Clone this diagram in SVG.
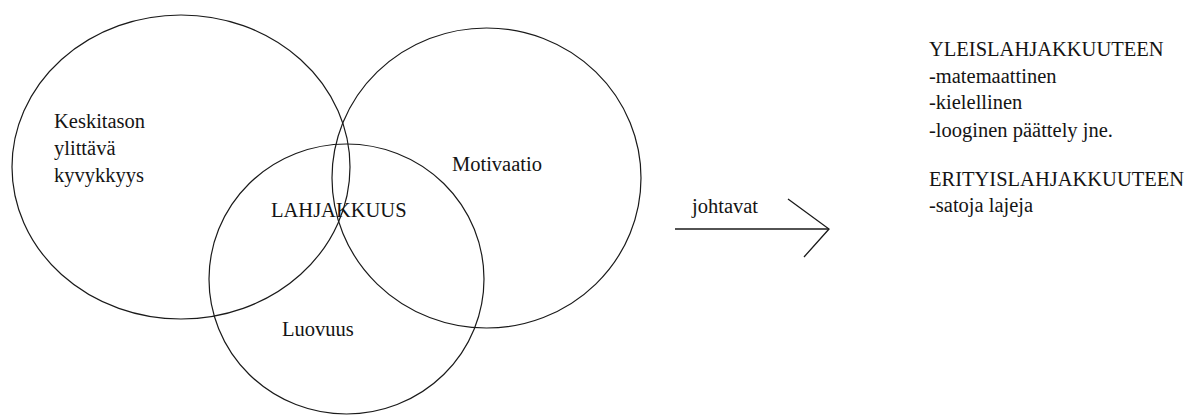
<svg xmlns="http://www.w3.org/2000/svg" width="1200" height="415" viewBox="0 0 1200 415">
<style>
.c{fill:none;stroke:#1a1a1a;stroke-width:1.2}
.t{font-size:20.5px;fill:#141414}
.l{fill:none;stroke:#1a1a1a;stroke-width:1.3}
</style>
<rect width="1200" height="415" fill="#ffffff"/>
<g font-family="'Liberation Serif', 'Times New Roman', 'DejaVu Serif', serif">
<g id="kyvykkyys">
<ellipse class="c" cx="181" cy="167" rx="169" ry="152"/>
<text class="t" x="54" y="128">Keskitason</text>
<text class="t" x="54" y="155">ylittävä</text>
<text class="t" x="54" y="182">kyvykkyys</text>
</g>
<g id="motivaatio">
<ellipse class="c" cx="486.5" cy="178" rx="154.5" ry="150"/>
<text class="t" x="452" y="171">Motivaatio</text>
</g>
<g id="luovuus">
<ellipse class="c" cx="346.5" cy="279" rx="137.5" ry="135"/>
<text class="t" x="282" y="336">Luovuus</text>
</g>
<g id="lahjakkuus">
<text class="t" x="271" y="217">LAHJAKKUUS</text>
</g>
<g id="connectors">
<line class="l" x1="675" y1="229" x2="829" y2="229"/>
<polyline class="l" points="788,199 829,229 804,257"/>
<text class="t" x="692" y="213">johtavat</text>
</g>
<g id="tulokset">
<text class="t" x="929" y="56">YLEISLAHJAKKUUTEEN</text>
<text class="t" x="929" y="83">-matemaattinen</text>
<text class="t" x="929" y="109">-kielellinen</text>
<text class="t" x="929" y="137">-looginen päättely jne.</text>
<text class="t" x="929" y="186">ERITYISLAHJAKKUUTEEN</text>
<text class="t" x="929" y="212">-satoja lajeja</text>
</g>
</g>
</svg>
